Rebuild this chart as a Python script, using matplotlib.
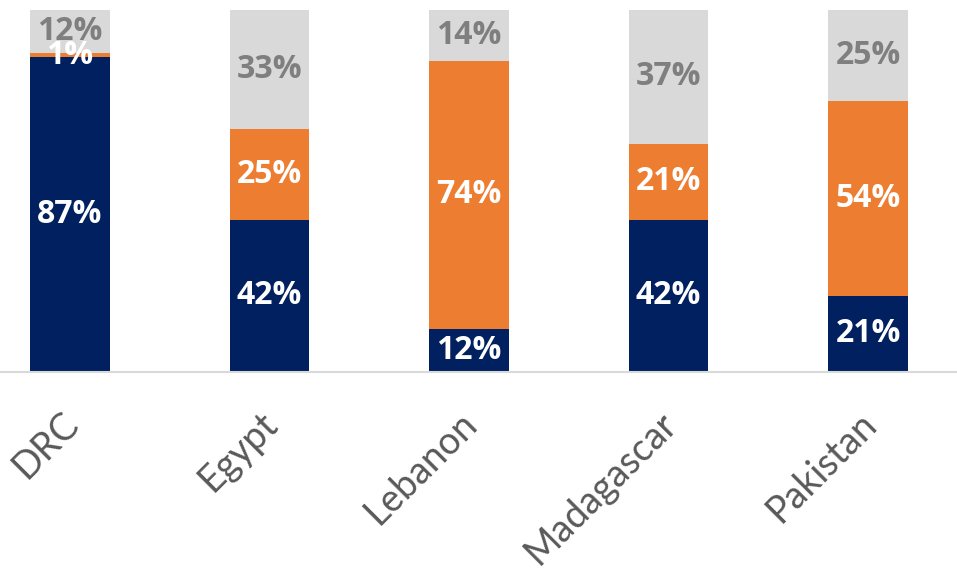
import matplotlib.pyplot as plt
import matplotlib.transforms as mtransforms
import numpy as np

# data
countries = ['DRC', 'Egypt', 'Lebanon', 'Madagascar', 'Pakistan']
navy_vals = [87, 42, 12, 42, 21]
orange_vals = [1, 25, 74, 21, 54]
gray_vals = [12, 33, 14, 37, 25]

colors = ['#002060', '#ED7D31', '#D9D9D9']
label_colors = ['white', 'white', '#7F7F7F']

fig = plt.figure(figsize=(9.57, 5.73), dpi=100)
ax = fig.add_axes([0, 201 / 573, 1, 1 - 201 / 573 - 10 / 573])

x = np.arange(len(countries))
bottom = np.zeros(len(countries))
for vals, col, lcol in zip([navy_vals, orange_vals, gray_vals], colors, label_colors):
    vals = np.array(vals, dtype=float)
    ax.bar(x, vals, width=0.40, bottom=bottom, color=col, edgecolor='none')
    for xi, b, v in zip(x, bottom, vals):
        ax.text(xi, b + v / 2, f'{int(v)}%', ha='center', va='center',
                color=lcol, fontsize=23, fontweight='bold', family='Open Sans')
    bottom += vals

ax.set_xlim(-0.351, 4.446)
ax.set_ylim(0, 100)
ax.set_yticks([])
ax.set_xticks(x)
ax.set_xticklabels(countries, rotation=45, ha='right', rotation_mode='anchor',
                   fontsize=27, color='#595959', family='Lato')
ax.tick_params(axis='x', length=0, pad=18)
# nudge the rotated labels down-left a little
shift = mtransforms.ScaledTranslation(-0.10, -0.08, fig.dpi_scale_trans)
for lbl in ax.get_xticklabels():
    lbl.set_transform(lbl.get_transform() + shift)
for s in ['top', 'left', 'right']:
    ax.spines[s].set_visible(False)
ax.spines['bottom'].set_color('#D9D9D9')
ax.spines['bottom'].set_linewidth(1.5)

plt.savefig('out.png', dpi=100)
